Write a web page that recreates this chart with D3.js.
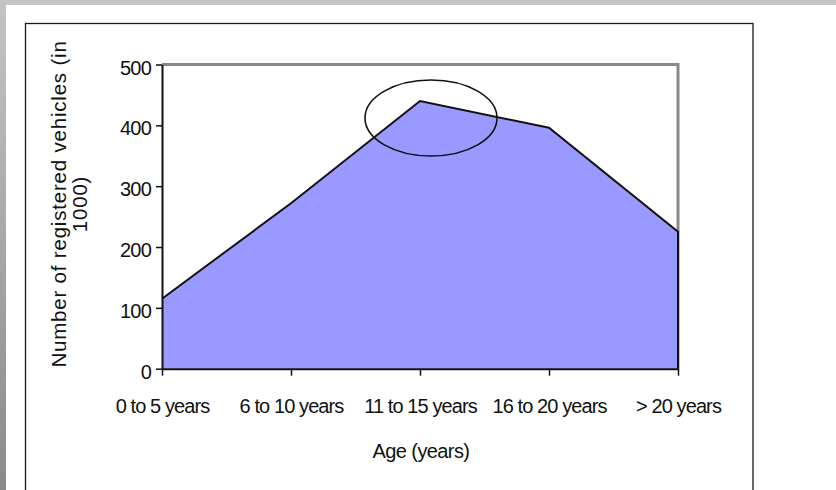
<!DOCTYPE html>
<html><head><meta charset="utf-8">
<script src="https://cdn.jsdelivr.net/npm/d3@7"></script>
<style>
html,body{margin:0;padding:0;background:#fff;}
svg{display:block;}
text{font-family:"Liberation Sans",Arial,sans-serif;fill:#111;}
</style></head>
<body>
<script>
const categories = ["0 to 5 years","6 to 10 years","11 to 15 years","16 to 20 years","> 20 years"];
const values = [115, 272, 440, 396, 225];
const yTicks = [0,100,200,300,400,500];
const yTitleLines = ["Number of registered vehicles (in","1000)"];
const xTitle = "Age (years)";

const W = 836, H = 490;
const svg = d3.select("body").append("svg").attr("width", W).attr("height", H);

// page background (gray border strips)
const grad = svg.append("defs").append("linearGradient").attr("id","lg").attr("x1",0).attr("y1",0).attr("x2",0).attr("y2",1);
grad.append("stop").attr("offset",0).attr("stop-color","#c4c4c4");
grad.append("stop").attr("offset",1).attr("stop-color","#8a8a8a");
svg.append("rect").attr("x",0).attr("y",0).attr("width",W).attr("height",H).attr("fill","#fff");
svg.append("rect").attr("x",0).attr("y",0).attr("width",W).attr("height",5).attr("fill","#c4c4c4");
svg.append("rect").attr("x",0).attr("y",0).attr("width",6).attr("height",H).attr("fill","url(#lg)");

// outer chart frame
svg.append("rect").attr("x",25.5).attr("y",23.5).attr("width",727.5).attr("height",H)
  .attr("fill","none").attr("stroke","#1a1a1a").attr("stroke-width",1.3);

const x = d3.scalePoint().domain(categories).range([162, 678]);
const y = d3.scaleLinear().domain([0, 500]).range([368.7, 64.5]);

// plot frame top/right (gray)
svg.append("path")
  .attr("d", `M${x.range()[0]},${y(500)}H${x.range()[1]}V${y(0)}`)
  .attr("fill","none").attr("stroke","#888").attr("stroke-width",3);

// area
const data = categories.map((c,i)=>({c, v: values[i]}));
svg.append("path").datum(data)
  .attr("d", d3.area().x(d=>x(d.c)).y0(y(0)).y1(d=>y(d.v)))
  .attr("fill","#9999ff").attr("stroke","none");
const last = data[data.length-1];
svg.append("path").datum(data)
  .attr("d", d3.line().x(d=>x(d.c)).y(d=>y(d.v))(data) + `L${x(last.c)},${y(0)}`)
  .attr("fill","none").attr("stroke","#111").attr("stroke-width",2).attr("stroke-linejoin","miter");

// y axis
const yAxis = svg.append("g").attr("transform",`translate(${x.range()[0]},0)`)
  .call(d3.axisLeft(y).tickValues(yTicks).tickSize(6).tickSizeOuter(0).tickPadding(6));
yAxis.select(".domain").attr("stroke","#111").attr("stroke-width",2);
yAxis.selectAll(".tick line").attr("stroke","#111").attr("stroke-width",1.5);
yAxis.selectAll(".tick text").attr("font-size",20).attr("dy",null)
  .attr("y",9.5).attr("x",-11).attr("letter-spacing",-0.8)
  .style("font-family","'Liberation Sans',Arial,sans-serif").attr("fill","#111");

// x axis
const xAxis = svg.append("g").attr("transform",`translate(0,${y(0)})`)
  .call(d3.axisBottom(x).tickSize(7).tickSizeOuter(0).tickPadding(10));
xAxis.select(".domain").attr("stroke","#111").attr("stroke-width",2);
xAxis.selectAll(".tick line").attr("stroke","#111").attr("stroke-width",1.5);
xAxis.selectAll(".tick text").attr("font-size",20).attr("dy",null).attr("y",44.5)
  .attr("letter-spacing",-0.9)
  .style("font-family","'Liberation Sans',Arial,sans-serif").attr("fill","#111");

// highlight ellipse
svg.append("ellipse").attr("cx", x(categories[2]) + 11).attr("cy", y(values[2]) + 17)
  .attr("rx",66).attr("ry",38).attr("fill","none").attr("stroke","#111").attr("stroke-width",1.6);

// x title
svg.append("text").attr("x", 421).attr("y", 458).attr("text-anchor","middle")
  .attr("font-size",20).attr("letter-spacing",-0.6).text(xTitle);

// y title
const yt = svg.append("text").attr("transform","translate(0,204) rotate(-90)")
  .attr("text-anchor","middle").attr("font-size",20.5).attr("letter-spacing",0.8);
yTitleLines.forEach((t,i)=>{
  yt.append("tspan").attr("x",0).attr("y", 66 + i*20.5).text(t);
});
</script>
</body></html>
